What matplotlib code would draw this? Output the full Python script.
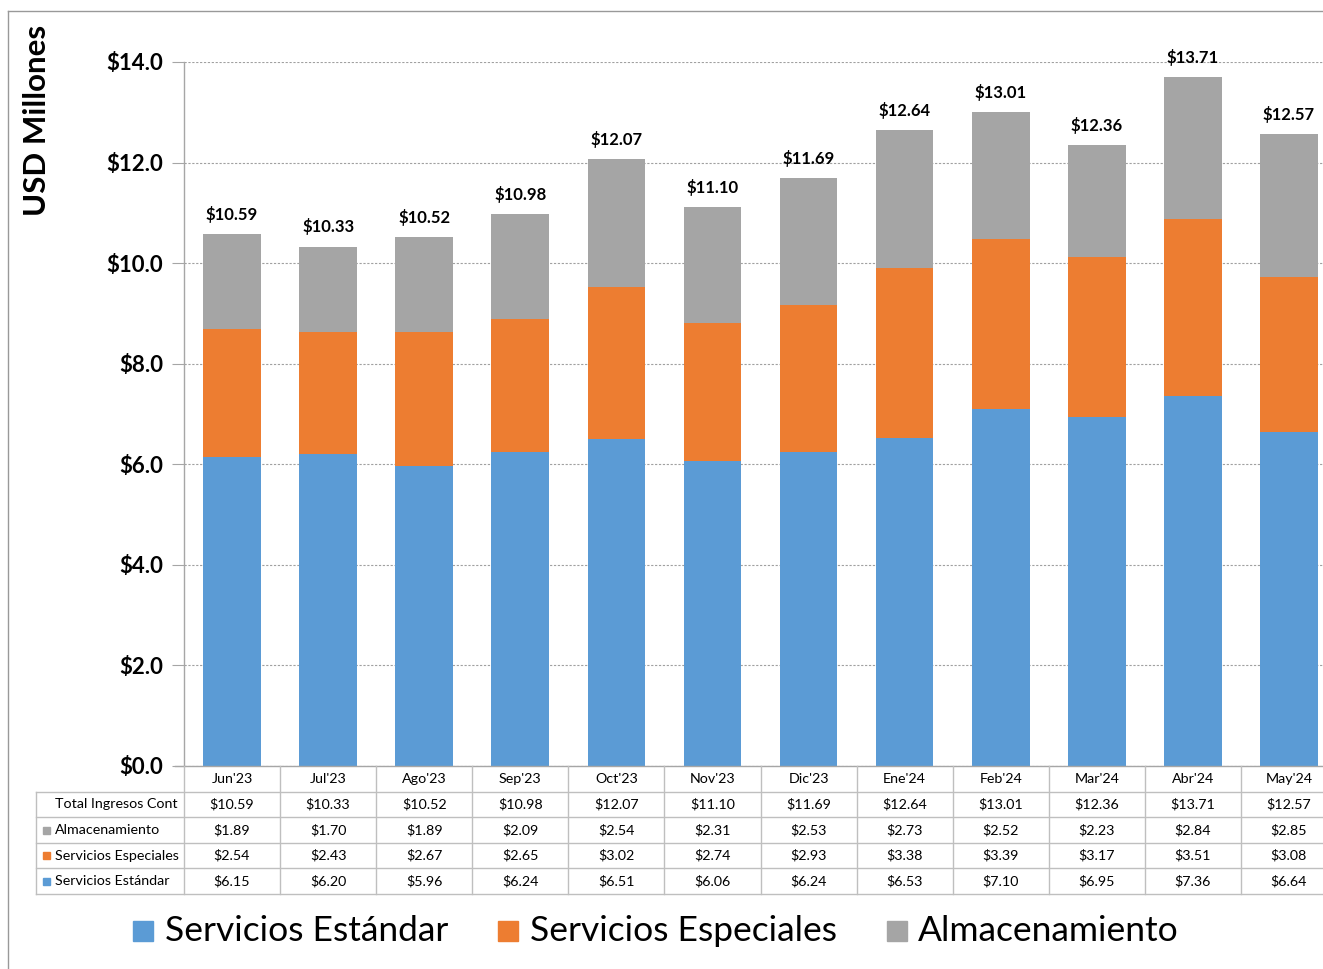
import matplotlib
matplotlib.use("Agg")
import matplotlib.pyplot as plt
from matplotlib.lines import Line2D
from matplotlib.patches import Rectangle
import matplotlib.transforms as mtransforms

plt.rcParams['font.family'] = ['Lato', 'DejaVu Sans']

months = ["Jun'23", "Jul'23", "Ago'23", "Sep'23", "Oct'23", "Nov'23", "Dic'23",
          "Ene'24", "Feb'24", "Mar'24", "Abr'24", "May'24"]
estandar = [6.15, 6.20, 5.96, 6.24, 6.51, 6.06, 6.24, 6.53, 7.10, 6.95, 7.36, 6.64]
especiales = [2.54, 2.43, 2.67, 2.65, 3.02, 2.74, 2.93, 3.38, 3.39, 3.17, 3.51, 3.08]
almacen = [1.89, 1.70, 1.89, 2.09, 2.54, 2.31, 2.53, 2.73, 2.52, 2.23, 2.84, 2.85]
totals = [10.59, 10.33, 10.52, 10.98, 12.07, 11.10, 11.69, 12.64, 13.01, 12.36, 13.71, 12.57]
yticks = [0, 2, 4, 6, 8, 10, 12, 14]

C_BLUE = '#5B9BD5'
C_ORANGE = '#ED7D31'
C_GRAY = '#A5A5A5'
LINE = '#A6A6A6'

W, H = 1323, 969
fig = plt.figure(figsize=(W / 100, H / 100), dpi=100)

def fx(p):
    return p / W

def fy(p):
    return 1 - p / H

ax = fig.add_axes([fx(184), fy(766), fx(1153), (766 - 62) / H])
x = list(range(len(months)))
bw = 0.6
ax.bar(x, estandar, bw, color=C_BLUE, zorder=3)
ax.bar(x, especiales, bw, bottom=estandar, color=C_ORANGE, zorder=3)
bot2 = [a + b for a, b in zip(estandar, especiales)]
ax.bar(x, almacen, bw, bottom=bot2, color=C_GRAY, zorder=3)

for i, t in enumerate(totals):
    top = bot2[i] + almacen[i]
    ax.text(i, top + 0.22, f"${t:.2f}", ha='center', va='bottom',
            fontsize=12, fontweight='bold', color='#000000')

ax.set_xlim(-0.5, len(months) - 0.5)
ax.set_ylim(0, 14)
ax.set_yticks(yticks)
ax.set_yticklabels([f"${v:.1f}" for v in yticks], fontsize=16, fontweight='bold')
ax.set_xticks([])
ax.tick_params(axis='y', length=9, color=LINE, pad=6)
ax.grid(axis='y', color='#A0A0A0', linestyle=(0, (2, 1.5)), linewidth=0.8, zorder=0)
for s in ['top', 'right', 'bottom']:
    ax.spines[s].set_visible(False)
ax.spines['left'].set_color(LINE)
ax.spines['left'].set_linewidth(1.0)

# x-axis line extending to tick
fig.add_artist(Line2D([fx(175), 1.0], [fy(766), fy(766)], color=LINE, lw=1.0))

# Data table
blend = mtransforms.blended_transform_factory(ax.transData, fig.transFigure)
row_edges = [766, 792, 817, 843, 868, 894]
for k in range(len(months) + 1):
    xv = k - 0.5
    fig.add_artist(Line2D([xv, xv], [fy(766), fy(894)], color='#BFBFBF', lw=1.0,
                          transform=blend, clip_on=False))
fig.add_artist(Line2D([fx(36), fx(36)], [fy(792), fy(894)], color='#BFBFBF', lw=1.0))
for r in row_edges[1:]:
    fig.add_artist(Line2D([fx(36), 1.0], [fy(r), fy(r)], color='#BFBFBF', lw=1.0))

rows = [
    ("Total Ingresos Cont", totals, None),
    ("Almacenamiento", almacen, C_GRAY),
    ("Servicios Especiales", especiales, C_ORANGE),
    ("Servicios Estándar", estandar, C_BLUE),
]
FS_T = 10.3
for i, m in enumerate(months):
    fig.text(i, fy(779), m, transform=blend, ha='center', va='center', fontsize=FS_T)
for r, (label, vals, col) in enumerate(rows):
    yc = (row_edges[r + 1] + row_edges[r + 2]) / 2
    if col is not None:
        fig.add_artist(Rectangle((fx(43), fy(yc + 3.5)), fx(7), 7 / H, color=col))
    fig.text(fx(55), fy(yc), label, ha='left', va='center', fontsize=FS_T)
    for i, v in enumerate(vals):
        fig.text(i, fy(yc), f"${v:.2f}", transform=blend, ha='center', va='center',
                 fontsize=FS_T)

# Legend
leg_items = [(133, 165, "Servicios Estándar", C_BLUE),
             (498, 530, "Servicios Especiales", C_ORANGE),
             (887, 918, "Almacenamiento", C_GRAY)]
for sx, tx, lab, col in leg_items:
    fig.add_artist(Rectangle((fx(sx), fy(941)), fx(20), 20 / H, color=col))
    fig.text(fx(tx), fy(931), lab, ha='left', va='center', fontsize=25.5)

# Y label
fig.text(fx(37), fy(120), "USD Millones", rotation=90, ha='center', va='center',
         fontsize=22.5, fontweight='bold')

# Frame lines
fig.add_artist(Line2D([fx(8), 1.0], [fy(11), fy(11)], color='#999999', lw=1.0))
fig.add_artist(Line2D([fx(8), fx(8)], [fy(11), 0], color='#999999', lw=1.0))

fig.savefig("out.png", dpi=100)
